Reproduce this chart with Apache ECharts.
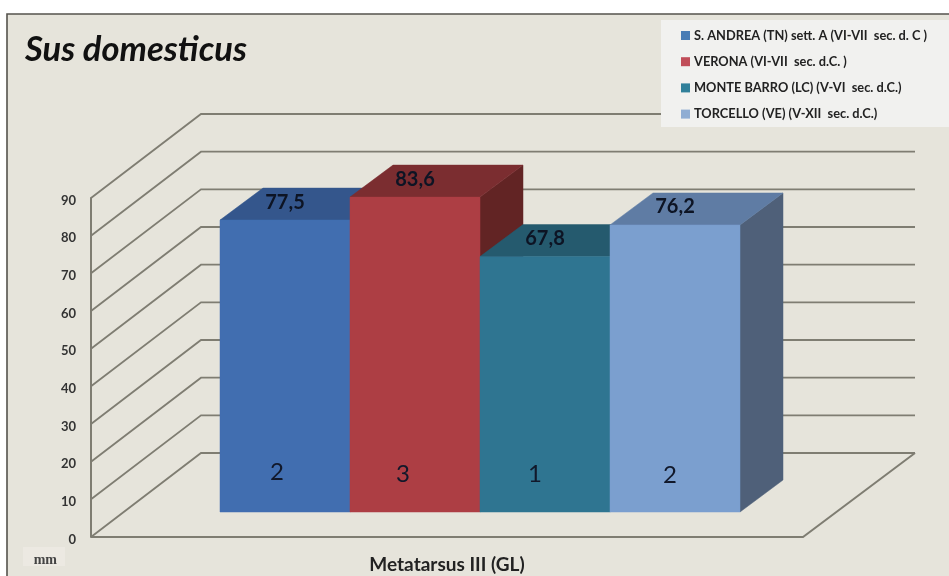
<!DOCTYPE html>
<html><head><meta charset="utf-8">
<style>html,body{margin:0;padding:0;background:#fff}#c{width:949px;height:576px}</style>
<script src="https://cdn.jsdelivr.net/npm/echarts@6/dist/echarts.min.js"></script>
</head><body><div id="c"></div>
<script>
const titleText = 'Sus domesticus';
const category = ['Metatarsus III (GL)'];
const sites = ['S. ANDREA (TN) sett. A (VI-VII  sec. d. C )','VERONA (VI-VII  sec. d.C. )','MONTE BARRO (LC) (V-VI  sec. d.C.)','TORCELLO (VE) (V-XII  sec. d.C.)'];
const values = [77.5, 83.6, 67.8, 76.2];
const valueLabels = ['77,5','83,6','67,8','76,2'];
const counts = ['2','3','1','2'];
const yTicks = [0,10,20,30,40,50,60,70,80,90];
const frontColors = ['#416eb0','#ad3e44','#2f7591','#7b9fcf'];
const topColors = ['#34568c','#7b2d30','#255a6e','#5f7ca4'];
const sideColors = ['#2c4a78','#622424','#1f4c5e','#4f6079'];
const legendColors = ['#4a7db5','#c04d58','#31809a','#8fadd3'];
const countOffsets = [[-8,0],[-12,2],[-10,2],[-5,3]];

const FONT = 'Lato, "Open Sans", sans-serif';
const LINE = '#7f7d72';
const depth = {dx:110, dy:-84};
const barFront = {dx:33, dy:-25};
const barBack = {dx:43, dy:-32};
const barWidth = 130;

function barItem(i){
  return function(params, api){
    const v = api.value(1);
    const centre = api.coord([0, 0])[0];
    const yTop = api.coord([0, v])[1] + barFront.dy;
    const yBase = api.coord([0, 0])[1] + barFront.dy;
    const xL = centre + barFront.dx + (i - 2) * barWidth;
    const xR = xL + barWidth;
    const d = barBack;
    const poly = (pts, fill) => ({type:'polygon', shape:{points:pts}, style:{fill:fill, stroke:fill, lineWidth:0.5}});
    return {type:'group', children:[
      poly([[xR,yBase],[xR+d.dx,yBase+d.dy],[xR+d.dx,yTop+d.dy],[xR,yTop]], sideColors[i]),
      poly([[xL,yTop],[xL+d.dx,yTop+d.dy],[xR+d.dx,yTop+d.dy],[xR,yTop]], topColors[i]),
      poly([[xL,yBase],[xR,yBase],[xR,yTop],[xL,yTop]], frontColors[i]),
      {type:'text', style:{x:(xL+xR)/2, y:yTop + d.dy/2 - 2, text:valueLabels[i], fill:'#0d1424',
        fontFamily:'Lato', fontWeight:'bold', fontSize:20, align:'center', verticalAlign:'middle'}},
      {type:'text', style:{x:(xL+xR)/2 + countOffsets[i][0], y:yBase - 40 + countOffsets[i][1], text:counts[i], fill:'#11182a',
        fontFamily:'Lato', fontSize:24, align:'center', verticalAlign:'middle'}}
    ]};
  };
}

function gridItem(params, api){
  const p = api.coord([0, api.value(0)]);
  const x0 = params.coordSys.x;
  const x1 = x0 + params.coordSys.width;
  const children = [{type:'polyline', shape:{points:[[x0,p[1]],[x0+depth.dx,p[1]+depth.dy],[x1+depth.dx+2,p[1]+depth.dy]]},
    style:{fill:'none', stroke:LINE, lineWidth:1.8}}];
  if (api.value(0) === 0) {
    children.push({type:'polyline', shape:{points:[[x0,p[1]],[x1,p[1]],[x1+depth.dx+2,p[1]+depth.dy]]},
      style:{fill:'none', stroke:LINE, lineWidth:2}});
  }
  return {type:'group', children};
}

const chart = echarts.init(document.getElementById('c'), null, {renderer:'canvas'});
chart.setOption({
  animation:false,
  backgroundColor:'#ffffff',
  graphic:[
    {type:'rect', z:-10, shape:{x:7,y:14,width:960,height:580}, style:{fill:'#e6e4db', stroke:'#55534d', lineWidth:1.6}},
    {type:'rect', z:20, shape:{x:661,y:20,width:288,height:107}, style:{fill:'#f1f1ef'}},
    {type:'rect', z:0, shape:{x:23,y:547,width:42,height:19}, style:{fill:'#ece9e2'}}
  ],
  title:{text:titleText, left:25, top:32, padding:0,
    textStyle:{fontFamily:FONT, fontStyle:'italic', fontWeight:'bold', fontSize:34.6, color:'#111'}},
  legend:{data:sites.map((s,i)=>({name:s, itemStyle:{color:legendColors[i]}})), orient:'vertical', left:681, top:29, padding:0, itemWidth:9, itemHeight:9, itemGap:13.2, icon:'rect', z:30,
    selectedMode:false, textStyle:{fontFamily:FONT, fontWeight:'bold', fontSize:12.8, color:'#222', padding:[0,0,0,-1]}},
  grid:{left:91, right:146, top:198, bottom:39, containLabel:false},
  xAxis:{type:'category', data:category, axisLine:{show:false}, axisTick:{show:false},
    axisLabel:{fontFamily:FONT, fontWeight:'bold', fontSize:19, color:'#222', margin:18}},
  yAxis:{type:'value', min:0, max:90, interval:10,
    axisLine:{show:true, lineStyle:{color:LINE, width:2}}, axisTick:{show:false}, splitLine:{show:false},
    axisLabel:{fontFamily:FONT, fontWeight:'bold', fontSize:13, color:'#333', margin:15, verticalAlign:'top', lineHeight:5},
    name:'mm', nameLocation:'start', nameGap:16, nameTextStyle:{fontFamily:'"Liberation Serif", serif', fontSize:14, fontWeight:'bold', color:'#444', align:'right', padding:[0,34,0,0]}},
  series:[
    {type:'custom', name:'grid3d', coordinateSystem:'cartesian2d', data:yTicks.map(t=>[t]), encode:{x:-1,y:0}, renderItem:gridItem, silent:true, z:1}
  ].concat(sites.map((s,i)=>({
    type:'custom', name:s, coordinateSystem:'cartesian2d', z:2+i,
    itemStyle:{color:frontColors[i]},
    data:[[category[0], values[i]]], encode:{x:0,y:1}, renderItem:barItem(i)
  })))
});
</script></body></html>
